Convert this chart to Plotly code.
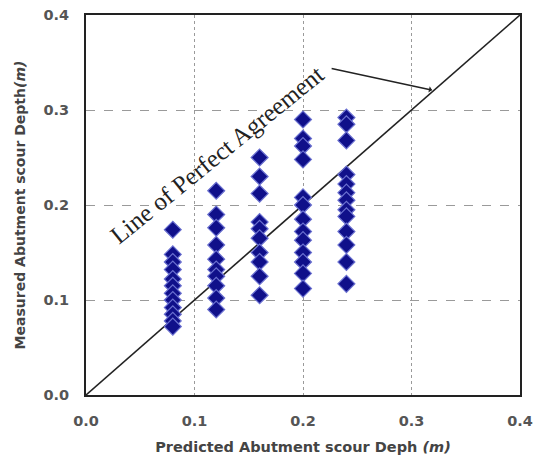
import plotly.graph_objects as go

# Data
col_x = [0.08, 0.12, 0.16, 0.20, 0.24]
y_008 = [0.174, 0.148, 0.140, 0.132, 0.122, 0.115, 0.107, 0.100, 0.092, 0.085, 0.078, 0.072]
y_012 = [0.215, 0.190, 0.176, 0.158, 0.143, 0.132, 0.125, 0.115, 0.102, 0.090]
y_016 = [0.250, 0.230, 0.212, 0.182, 0.175, 0.165, 0.150, 0.140, 0.125, 0.105]
y_020 = [0.290, 0.270, 0.262, 0.248, 0.208, 0.200, 0.185, 0.172, 0.163, 0.150, 0.140, 0.128, 0.112]
y_024 = [0.292, 0.285, 0.268, 0.232, 0.222, 0.213, 0.205, 0.195, 0.188, 0.172, 0.158, 0.140, 0.117]
cols = [y_008, y_012, y_016, y_020, y_024]

xs, ys = [], []
for xv, yl in zip(col_x, cols):
    xs += [xv] * len(yl)
    ys += yl

ticks = [0.0, 0.1, 0.2, 0.3, 0.4]
tick_text = ["0.0", "0.1", "0.2", "0.3", "0.4"]
line_x = [0.0, 0.4]
line_y = [0.0, 0.4]

fig = go.Figure()
fig.add_trace(go.Scatter(x=line_x, y=line_y, mode="lines",
                         line=dict(color="#222222", width=1.6), showlegend=False, hoverinfo="skip"))
fig.add_trace(go.Scatter(x=xs, y=ys, mode="markers",
                         marker=dict(symbol="diamond", size=13, color="#10108a",
                                     line=dict(color="#6a70d0", width=1.2)),
                         showlegend=False))

fig.add_annotation(x=0.121, y=0.253, text="Line of Perfect Agreement", showarrow=False,
                   textangle=-39, font=dict(family="Liberation Serif", size=25, color="#222222"))
fig.add_annotation(x=0.319, y=0.321, ax=0.225, ay=0.344, axref="x", ayref="y",
                   xref="x", yref="y", text="", showarrow=True, arrowhead=1,
                   arrowsize=0.7, arrowwidth=1.5, arrowcolor="#222222")

axis_common = dict(range=[0, 0.4], tickvals=ticks, ticktext=tick_text,
                   showline=True, linecolor="#222222", linewidth=1.8, mirror=True,
                   showgrid=True, gridcolor="#9a9a9a", gridwidth=1,
                   zeroline=False, ticks="", automargin=False,
                   tickfont=dict(family="DejaVu Sans", size=14.5, color="#555555", weight="bold"))

fig.update_layout(
    width=534, height=460,
    margin=dict(l=86, r=14, t=15, b=65),
    paper_bgcolor="white", plot_bgcolor="white",
    xaxis=dict(**axis_common, griddash="dot", ticklabelstandoff=12,
               title=dict(text="Predicted Abutment scour Deph <i>(m)</i>", standoff=14,
                          font=dict(family="DejaVu Sans", size=14.5, color="#444444", weight="bold"))),
    yaxis=dict(**axis_common, griddash="dash", ticklabelstandoff=12,
               title=dict(text="Measured Abutment scour Depth<i>(m)</i>", standoff=15,
                          font=dict(family="DejaVu Sans", size=14, color="#444444", weight="bold"))),
)

fig.write_html("out.html")
